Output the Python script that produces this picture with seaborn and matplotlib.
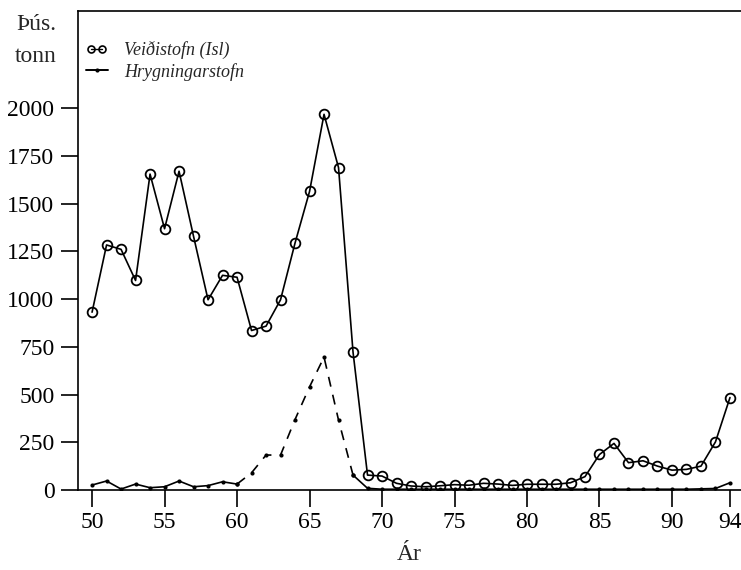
import pandas as pd
import matplotlib
matplotlib.use("Agg")
import matplotlib.pyplot as plt
from matplotlib.legend_handler import HandlerLine2D
import seaborn as sns

# Gögn: ár og stofnstærð (þús. tonn)
ar = list(range(1950, 1995))
veidistofn = [931, 1283, 1260, 1097, 1654, 1368, 1669, 1328, 996, 1124,
              1114, 835, 858, 996, 1293, 1563, 1967, 1688, 722, 78,
              73, 35, 21, 17, 22, 28, 25, 35, 31, 24,
              30, 30, 30, 38, 70, 186, 244, 143, 153, 125,
              104, 108, 125, 252, 484]
hrygningarstofn = [26, 47, 5, 31, 12, 17, 47, 17, 23, 43,
                   31, 90, 183, 183, 369, 540, 696, 366, 78, 9,
                   4, 4, 4, 4, 4, 4, 4, 4, 4, 4,
                   4, 4, 4, 4, 4, 4, 4, 4, 4, 4,
                   4, 4, 6, 8, 38]
x_ticks = [50, 55, 60, 65, 70, 75, 80, 85, 90, 94]
y_ticks = [0, 250, 500, 750, 1000, 1250, 1500, 1750, 2000]

df = pd.DataFrame({"ar": [a - 1900 for a in ar],
                   "veidi": veidistofn,
                   "hryg": hrygningarstofn})

sns.set_style("ticks")
plt.rcParams["font.family"] = ["Liberation Serif", "DejaVu Serif"]

fig = plt.figure(figsize=(7.41, 5.70), dpi=100)
ax = fig.add_axes([78 / 741, 1 - 490 / 570, 663 / 741, 479 / 570])

# Hrygningarstofn: heil lína, brotin 1960-68, heil aftur
solid1 = df[df["ar"] <= 60]
dashed = df[(df["ar"] >= 60) & (df["ar"] <= 68)]
solid2 = df[df["ar"] >= 68]
kw = dict(color="black", linewidth=1.2, marker="o", markersize=3,
          markeredgewidth=0)
sns.lineplot(data=solid1, x="ar", y="hryg", ax=ax, **kw)
sns.lineplot(data=dashed, x="ar", y="hryg", ax=ax, linestyle=(0, (6, 5)), **kw)
sns.lineplot(data=solid2, x="ar", y="hryg", ax=ax, **kw)

# Veiðistofn
sns.lineplot(data=df, x="ar", y="veidi", ax=ax, color="black", linewidth=1.2,
             marker="o", markersize=7, markerfacecolor="none",
             markeredgecolor="black", markeredgewidth=1.3)

ax.set_xlim(49.03, 94.76)
ax.set_ylim(0, 2508)
ax.set_xticks(x_ticks)
ax.set_yticks(y_ticks)
ax.tick_params(axis="both", direction="out", length=12, width=1.2,
               labelsize=17, color="black", labelcolor="black")
ax.tick_params(axis="x", pad=4)
ax.tick_params(axis="y", pad=5)
for side in ["left", "bottom", "top"]:
    ax.spines[side].set_linewidth(1.2)
    ax.spines[side].set_color("black")
ax.spines["right"].set_visible(False)

ax.set_ylabel("")
ax.set_xlabel("Ár", fontsize=17)
ax.xaxis.set_label_coords(0.5, -0.112)

fig.text(36 / 741, 1 - 24 / 570, "Þús.", fontsize=17, ha="center", va="center")
fig.text(36 / 741, 1 - 57 / 570, "tonn", fontsize=17, ha="center", va="center")

# Skýringar
h_veidi = plt.Line2D([], [], color="black", linewidth=1.0, marker="o",
                     markersize=5, markerfacecolor="none", markeredgewidth=1.2)
h_hryg = plt.Line2D([], [], color="black", linewidth=1.4, marker="o",
                    markersize=3, markeredgewidth=0)
ax.legend([h_veidi, h_hryg], ["Veiðistofn (Isl)", "Hrygningarstofn"],
          loc="upper left", bbox_to_anchor=(0.012, 0.937), frameon=False,
          prop={"family": "Liberation Serif", "style": "italic", "size": 13},
          handlelength=1.2, handletextpad=0.9, labelspacing=0.2,
          borderpad=0, borderaxespad=0,
          handler_map={h_veidi: HandlerLine2D(numpoints=2),
                       h_hryg: HandlerLine2D(numpoints=1)})

fig.savefig("out.png", dpi=100, facecolor="white")
